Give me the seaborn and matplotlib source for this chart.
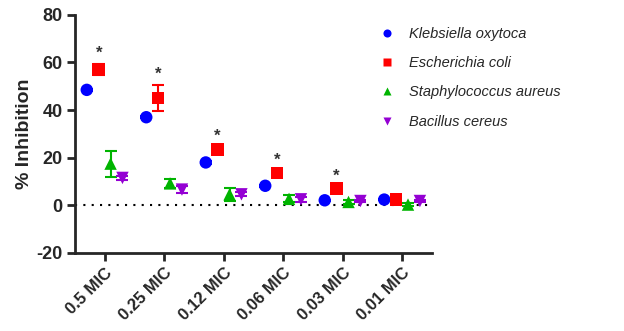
import numpy as np
import pandas as pd
import matplotlib
matplotlib.use("Agg")
import matplotlib.pyplot as plt
import seaborn as sns

categories = ["0.5 MIC", "0.25 MIC", "0.12 MIC", "0.06 MIC", "0.03 MIC", "0.01 MIC"]
species = ["Klebsiella oxytoca", "Escherichia coli", "Staphylococcus aureus", "Bacillus cereus"]
klebsiella = [48.5, 37.0, 18.0, 8.2, 2.1, 2.4]
ecoli = [57.0, 45.0, 23.5, 13.5, 7.0, 2.4]
staph = [17.5, 9.2, 4.6, 2.7, 1.4, 0.3]
bacillus = [11.5, 6.6, 4.6, 2.5, 1.8, 1.8]
klebsiella_err = [0.4, 0.4, 0.5, 0.4, 0.3, 0.3]
ecoli_err = [2.2, 5.5, 1.0, 1.0, 0.8, 0.5]
staph_err = [5.5, 1.8, 2.6, 1.5, 0.9, 0.5]
bacillus_err = [1.0, 1.5, 0.8, 1.0, 0.6, 0.5]
significant = [True, True, True, True, True, False]

colors = ["#0000FF", "#FF0000", "#00B400", "#9400D3"]
markers = ["o", "s", "^", "v"]

sns.set_style("ticks")
plt.rcParams["font.family"] = ["Liberation Sans", "DejaVu Sans"]
plt.rcParams["axes.unicode_minus"] = False

values = [klebsiella, ecoli, staph, bacillus]
errors = [klebsiella_err, ecoli_err, staph_err, bacillus_err]
offsets = np.linspace(-0.3, 0.3, len(species))

rows = []
for i, sp in enumerate(species):
    for j, cat in enumerate(categories):
        rows.append({"species": sp, "x": j + offsets[i], "val": values[i][j], "err": errors[i][j]})
df = pd.DataFrame(rows)

fig, ax = plt.subplots(figsize=(6.24, 3.31), dpi=100)
fig.subplots_adjust(left=0.12, right=0.692, bottom=0.236, top=0.955)

for i, sp in enumerate(species):
    d = df[df.species == sp]
    ax.errorbar(d.x, d.val, yerr=d.err, fmt="none", ecolor=colors[i],
                elinewidth=1.5, capsize=4, capthick=1.5, zorder=2)

sns.scatterplot(data=df, x="x", y="val", hue="species", style="species",
                hue_order=species, style_order=species,
                palette=colors, markers=markers, s=80, edgecolor="none",
                ax=ax, zorder=3)

for j, sig in enumerate(significant):
    if sig:
        ax.text(j + offsets[1], ecoli[j] + ecoli_err[j] + 4.5, "*", ha="center",
                va="center", fontsize=12, fontweight="bold", color="#333333")

ax.axhline(0, color="black", linestyle=(0, (1, 3)), linewidth=1.5, zorder=1)

ax.set_xlim(-0.5, 5.5)
ax.set_ylim(-20, 80)
ax.set_yticks([-20, 0, 20, 40, 60, 80])
ax.set_xticks(range(len(categories)))
ax.set_xticklabels(categories, rotation=45, ha="right", rotation_mode="anchor",
                   fontsize=12, fontweight="bold")
for t in ax.get_yticklabels():
    t.set_fontweight("bold")
    t.set_fontsize(13)
ax.set_xlabel("")
ax.set_ylabel("% Inhibition", fontsize=14, fontweight="bold", labelpad=2)
sns.despine(ax=ax)
for s in ["left", "bottom"]:
    ax.spines[s].set_linewidth(2)
ax.tick_params(width=2, length=6, pad=3)

leg = ax.legend(loc="upper left", bbox_to_anchor=(0.818, 0.975), frameon=False,
                fontsize=10.5, handletextpad=0.5, labelspacing=1.05, borderaxespad=0,
                markerscale=0.65)
for t in leg.get_texts():
    t.set_fontstyle("italic")

fig.savefig("out.png", dpi=100)
